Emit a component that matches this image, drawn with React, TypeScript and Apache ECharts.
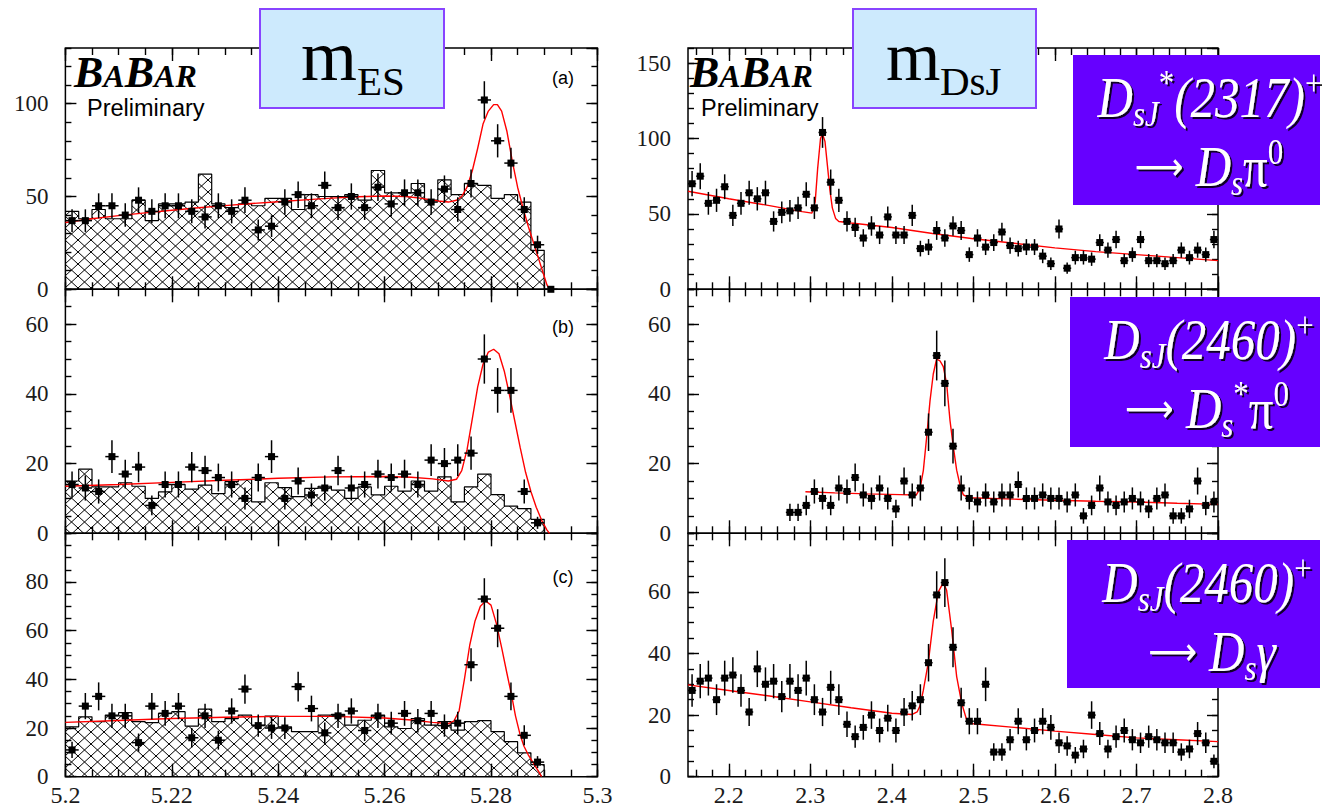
import React, { useEffect, useRef } from "react";
import * as echarts from "echarts";

const SERIF = "'Liberation Serif', 'DejaVu Serif', serif";
const SANS = "'Liberation Sans', Arial, sans-serif";

// ---------- m_ES (left column): 2.5 MeV bins starting at 5.2 GeV ----------
const mesMin = 5.2;
const mesMax = 5.3;
const mesBinStart = 5.2;
const mesBinWidth = 0.0025;
const mesMajorTick = 0.02;
const mesMinorTick = 0.005;

const mesCountsA = [37, 37, 45, 45, 40, 48, 42, 45, 45, 42, 39, 45, 42, 48, 32, 34, 47, 51, 45, 56, 44, 50, 44, 55, 46, 52, 52, 47, 54, 43, 57, 102, 80, 68, 43, 24, 0];
const mesCountsB = [14, 13, 12, 22, 17, 19, 8, 14, 14, 19, 18, 16, 14, 10, 16, 22, 10, 15, 11, 13, 18, 13, 14, 17, 16, 17, 14, 21, 20, 21, 23, 50, 41, 41, 12, 3];
const mesCountsC = [11, 29, 33, 25, 25, 14, 29, 26, 29, 16, 25, 15, 27, 36, 21, 20, 20, 37, 28, 18, 25, 27, 19, 25, 22, 26, 23, 26, 21, 22, 46, 73, 61, 33, 17, 6];

const mesBkgA = [42, 38, 43, 38, 38, 48, 37, 46, 46, 47, 62, 46, 44, 46, 45, 49, 49, 43, 51, 50, 50, 51, 48, 64, 52, 52, 57, 48, 59, 51, 57, 56, 49, 51, 47, 21];
const mesBkgB = [15, 18.4, 13.3, 13.3, 14.5, 13.5, 10, 11.9, 14, 12.7, 13.8, 11.4, 14.8, 15.4, 9, 14.5, 13.1, 10.5, 12.9, 13.5, 12.4, 10, 13.3, 11, 13.5, 12.1, 15, 12.1, 16.2, 9, 13.3, 17, 11.1, 7.8, 7.1, 4];
const mesBkgC = [20.5, 24.6, 22.6, 25.3, 26.3, 22.6, 22.2, 26, 26.7, 20.8, 27.8, 22.6, 23.9, 25.3, 21.2, 24.9, 20.5, 18.5, 18.5, 25.3, 25.6, 21.2, 23.2, 25.3, 20.5, 19.8, 23.9, 21.2, 22.6, 19.1, 22.6, 23, 18.5, 14.4, 9.8, 5];

const mesFitA = [[5.2, 36], [5.205, 38], [5.21, 39.7], [5.215, 41.2], [5.22, 42.6], [5.225, 43.9], [5.23, 45.1], [5.235, 46.2], [5.24, 47.2], [5.245, 48.2], [5.25, 49.1], [5.255, 49.9], [5.26, 50.3], [5.264, 50], [5.267, 49], [5.27, 47.6], [5.272, 47], [5.2735, 48], [5.2745, 50], [5.2755, 55], [5.2765, 64], [5.2775, 76], [5.2785, 89], [5.2795, 96], [5.2805, 99.5], [5.2812, 99.5], [5.282, 96], [5.283, 85], [5.284, 69], [5.285, 55], [5.286, 44], [5.287, 34], [5.288, 25], [5.289, 16], [5.29, 7], [5.2905, 2.5], [5.291, 0]];
const mesFitB = [[5.2, 13.5], [5.21, 14], [5.22, 14.6], [5.23, 15.2], [5.24, 15.8], [5.25, 16.2], [5.26, 16.3], [5.265, 16.1], [5.269, 15.6], [5.272, 15], [5.2735, 15.5], [5.2745, 18], [5.2755, 24], [5.2765, 33], [5.2775, 42], [5.2785, 48.5], [5.2795, 52], [5.2805, 52.8], [5.2815, 51.5], [5.2825, 46.5], [5.2835, 39.5], [5.2845, 32], [5.2855, 24.5], [5.2865, 17.5], [5.2875, 12], [5.2885, 7.5], [5.2895, 3.8], [5.2905, 1], [5.291, 0]];
const mesFitC = [[5.2, 22.3], [5.21, 23.1], [5.22, 23.9], [5.23, 24.4], [5.24, 24.8], [5.25, 24.8], [5.26, 24.1], [5.265, 23.3], [5.269, 22.3], [5.272, 21.8], [5.273, 22.8], [5.274, 27], [5.275, 40], [5.276, 54], [5.277, 64], [5.278, 70], [5.279, 72.2], [5.28, 70.5], [5.281, 63], [5.282, 53], [5.283, 42.4], [5.284, 32], [5.2846, 25], [5.2855, 17], [5.2862, 12.5], [5.287, 9], [5.288, 5.5], [5.289, 2], [5.2895, 0]];

// ---------- m_DsJ (right column): 10 MeV bins starting at 2.15 GeV ----------
const mdsjMin = 2.15;
const mdsjMax = 2.8;
const mdsjBinStart = 2.15;
const mdsjBinWidth = 0.01;
const mdsjTickValues = [2.2, 2.3, 2.4, 2.5, 2.6, 2.7, 2.8];
const mdsjMinorTickValues: number[] = [];
for (let v = 216; v <= 280; v += 2) mdsjMinorTickValues.push(v / 100);

const mdsjCountsA = [70, 75, 57, 59, 68, 49, 57, 64, 60, 64, 45, 51, 52, 54, 63, 54, 104, 71, 59, 45, 41, 34, 42, 36, 48, 36, 36, 49, 27, 28, 39, 34, 42, 39, 23, 34, 28, 31, 38, 29, 27, 28, 28, 22, 17, 40, 14, 21, 21, 20, 31, 26, 33, 19, 23, 33, 19, 19, 17, 19, 26, 21, 26, 23, 33];
const mdsjFirstBinB = 12;
const mdsjCountsB = [6, 6, 8, 12, 10, 8, 13, 12, 16, 11, 10, 13, 10, 7, 15, 11, 13, 29, 51, 43, 25, 13, 10, 9, 11, 9, 11, 11, 14, 10, 10, 11, 10, 10, 9, 11, 5, 8, 13, 9, 8, 9, 10, 9, 7, 10, 11, 5, 5, 7, 15, 8, 9];
const mdsjCountsC = [28, 31, 32, 25, 32, 33, 28, 21, 35, 30, 31, 26, 31, 28, 32, 25, 21, 29, 25, 17, 13, 16, 20, 15, 19, 15, 21, 23, 25, 37, 59, 63, 42, 24, 18, 18, 30, 8, 8, 12, 18, 12, 15, 18, 16, 11, 10, 7, 9, 20, 14, 9, 13, 15, 12, 11, 13, 12, 11, 11, 8, 9, 14, 11, 5];

const mdsjFitA = [[2.15, 65], [2.2, 60], [2.25, 55.5], [2.29, 51.5], [2.302, 50.5], [2.306, 58], [2.309, 80], [2.3125, 100], [2.315, 103], [2.318, 98], [2.321, 82], [2.324, 66], [2.327, 54], [2.331, 47], [2.335, 45], [2.35, 44], [2.4, 41], [2.45, 37], [2.5, 33.5], [2.55, 30.5], [2.6, 27.5], [2.65, 25], [2.7, 23], [2.75, 21], [2.8, 19]];
const mdsjFitB = [[2.294, 11.9], [2.33, 11.6], [2.37, 11.3], [2.41, 11.1], [2.43, 11], [2.4346, 12.9], [2.4386, 18], [2.4427, 27.6], [2.4468, 38], [2.4508, 45.7], [2.4549, 50], [2.459, 49.5], [2.4631, 47.8], [2.4672, 42.9], [2.4713, 32.4], [2.4754, 24.8], [2.4795, 18.1], [2.4836, 13.8], [2.4877, 11], [2.495, 10.2], [2.55, 9.8], [2.6, 9.5], [2.65, 9.2], [2.7, 9], [2.75, 8.6], [2.8, 8.3]];
const mdsjFitC = [[2.15, 29.8], [2.2, 28], [2.25, 26.2], [2.3, 24.3], [2.35, 22.4], [2.4, 20.6], [2.425, 20.2], [2.431, 21], [2.4345, 23], [2.4386, 28], [2.4447, 37], [2.4508, 50.5], [2.457, 60], [2.4631, 63], [2.4672, 60.5], [2.4734, 47.5], [2.4795, 32.5], [2.4857, 23.8], [2.4918, 18.4], [2.497, 17.4], [2.5, 17.2], [2.55, 16], [2.6, 14.8], [2.65, 13.7], [2.7, 12.6], [2.75, 12], [2.8, 11.4]];

// ---------- layout ----------
const colLeft = [65.4, 688];
const colWidth = [532, 530];
const rowTop = [48, 289.3, 533.3];
const rowHeight = [241.3, 244, 243.4];

const panels: any[] = [
  { col: 0, row: 0, yMax: 130, yMajor: 50, yMinor: 10, counts: mesCountsA, bkg: mesBkgA, fit: mesFitA, firstBin: 0 },
  { col: 0, row: 1, yMax: 70, yMajor: 20, yMinor: 5, counts: mesCountsB, bkg: mesBkgB, fit: mesFitB, firstBin: 0 },
  { col: 0, row: 2, yMax: 100, yMajor: 20, yMinor: 5, counts: mesCountsC, bkg: mesBkgC, fit: mesFitC, firstBin: 0 },
  { col: 1, row: 0, yMax: 160, yMajor: 50, yMinor: 10, counts: mdsjCountsA, fit: mdsjFitA, firstBin: 0 },
  { col: 1, row: 1, yMax: 70, yMajor: 20, yMinor: 5, counts: mdsjCountsB, fit: mdsjFitB, firstBin: mdsjFirstBinB },
  { col: 1, row: 2, yMax: 79, yMajor: 20, yMinor: 5, counts: mdsjCountsC, fit: mdsjFitC, firstBin: 0 },
];

const tickLine = { color: "#000", width: 1.4 };
const xLabel = { fontFamily: SERIF, fontSize: 24, color: "#1a1a1a", margin: 6 };
const yLabel = { fontFamily: SERIF, fontSize: 23, color: "#1a1a1a", margin: 17, showMaxLabel: false };

function xAxes(gi: number, col: number, showLabels: boolean) {
  const range = col === 0 ? { min: mesMin, max: mesMax } : { min: mdsjMin, max: mdsjMax };
  const common = { gridIndex: gi, type: "value", ...range, axisLine: { show: false, onZero: false }, splitLine: { show: false } };
  const majorInt = col === 0 ? { interval: mesMajorTick } : {};
  const minorInt = col === 0 ? { interval: mesMinorTick } : {};
  const majorCustom = col === 0 ? {} : { customValues: mdsjTickValues };
  const minorCustom = col === 0 ? {} : { customValues: mdsjMinorTickValues };
  const out: any[] = [];
  for (const position of ["bottom", "top"]) {
    out.push({
      ...common, ...majorInt, position,
      axisTick: { inside: true, length: 13, lineStyle: tickLine, ...majorCustom },
      axisLabel: position === "bottom" && showLabels ? { ...xLabel, ...majorCustom } : { show: false },
    });
    out.push({
      ...common, ...minorInt, position,
      axisTick: { inside: true, length: 7, lineStyle: tickLine, ...minorCustom },
      axisLabel: { show: false },
    });
  }
  return out;
}

function yAxes(gi: number, p: any) {
  const common = { gridIndex: gi, type: "value", min: 0, max: p.yMax, axisLine: { show: false, onZero: false }, splitLine: { show: false } };
  return [
    { ...common, position: "left", interval: p.yMajor, axisTick: { inside: true, length: 11, lineStyle: tickLine }, axisLabel: yLabel },
    { ...common, position: "left", interval: p.yMinor, axisTick: { inside: true, length: 6, lineStyle: tickLine }, axisLabel: { show: false } },
    { ...common, position: "right", interval: p.yMajor, axisTick: { inside: true, length: 11, lineStyle: tickLine }, axisLabel: { show: false } },
    { ...common, position: "right", interval: p.yMinor, axisTick: { inside: true, length: 6, lineStyle: tickLine }, axisLabel: { show: false } },
  ];
}

function makeHatch() {
  const w = 13;
  const h = 12;
  const c = document.createElement("canvas");
  c.width = w;
  c.height = h;
  const ctx = c.getContext("2d") as CanvasRenderingContext2D;
  ctx.strokeStyle = "#000";
  ctx.lineWidth = 1;
  ctx.beginPath();
  ctx.moveTo(0, 0);
  ctx.lineTo(w, h);
  ctx.moveTo(w, 0);
  ctx.lineTo(0, h);
  ctx.stroke();
  return c;
}

function pointsSeries(gi: number, data: number[][], halfWidth: number) {
  return {
    type: "custom",
    xAxisIndex: gi * 4,
    yAxisIndex: gi * 4,
    z: 6,
    clip: false,
    data,
    renderItem: (_params: any, api: any) => {
      const x = api.value(0);
      const y = api.value(1);
      const e = Math.sqrt(y);
      const c = api.coord([x, y]);
      const lo = api.coord([x, y - e]);
      const hi = api.coord([x, y + e]);
      const l = api.coord([x - halfWidth, y]);
      const r = api.coord([x + halfWidth, y]);
      const s = 7;
      return {
        type: "group",
        children: [
          { type: "line", shape: { x1: c[0], y1: hi[1], x2: c[0], y2: lo[1] }, style: { stroke: "#000", lineWidth: 1.5 } },
          { type: "line", shape: { x1: l[0], y1: c[1], x2: r[0], y2: c[1] }, style: { stroke: "#000", lineWidth: 1.5 } },
          { type: "rect", shape: { x: c[0] - s / 2, y: c[1] - s / 2, width: s, height: s }, style: { fill: "#000" } },
        ],
      };
    },
  };
}

function buildGraphic() {
  const g: any[] = [];
  const logo = (x: number, y: number) => ({
    type: "text", x, y, z: 50,
    style: {
      text: "{b|B}{s|A}{b|B}{s|AR}",
      align: "left", textAlign: "left", verticalAlign: "top", textVerticalAlign: "top",
      rich: {
        b: { fontFamily: SERIF, fontStyle: "italic", fontWeight: "bold", fontSize: 44, lineHeight: 36, verticalAlign: "bottom", fill: "#000", color: "#000" },
        s: { fontFamily: SERIF, fontStyle: "italic", fontWeight: "bold", fontSize: 32, lineHeight: 26, verticalAlign: "bottom", fill: "#000", color: "#000", padding: [0, 0, 2, 0] },
      },
    },
  });
  const prelim = (x: number, y: number) => ({
    type: "text", x, y, z: 50,
    style: { text: "Preliminary", fontFamily: SANS, fontSize: 23.5, fill: "#000", align: "left", textAlign: "left", verticalAlign: "middle", textVerticalAlign: "middle" },
  });
  const tag = (t: string, x: number, y: number) => ({
    type: "text", x, y, z: 50,
    style: { text: t, fontFamily: SANS, fontSize: 18, fill: "#000", align: "center", textAlign: "center", verticalAlign: "middle", textVerticalAlign: "middle" },
  });
  g.push(logo(74, 58), logo(690, 58), prelim(87, 108), prelim(701, 108));
  g.push(tag("(a)", 563, 78), tag("(b)", 563, 327), tag("(c)", 563, 577));

  // light-blue variable boxes
  const blueBox = (x: number, w: number) => ({
    type: "rect", z: 100, shape: { x, y: 9, width: w, height: 99 },
    style: { fill: "#cdeafd", stroke: "#8844ff", lineWidth: 2 },
  });
  const serifText = (t: string, x: number, y: number, size: number) => ({
    type: "text", x, y, z: 101,
    style: { text: t, fontFamily: SERIF, fontSize: size, fill: "#000", align: "left", textAlign: "left", verticalAlign: "middle", textVerticalAlign: "middle" },
  });
  g.push(blueBox(260, 184), serifText("m", 301, 56, 72), serifText("ES", 357, 81, 41));
  g.push(blueBox(853, 183), serifText("m", 886, 56, 70), serifText("DsJ", 940, 81, 41));

  // purple decay boxes
  const shadow = { textShadowColor: "rgba(0,0,0,0.85)", textShadowBlur: 1, textShadowOffsetX: 2, textShadowOffsetY: 2 };
  const base = { fill: "#fff", color: "#fff", fontFamily: SERIF, ...shadow };
  const rich = {
    m: { ...base, fontStyle: "italic", fontSize: 49, lineHeight: 58, verticalAlign: "middle" },
    u: { ...base, fontStyle: "normal", fontSize: 49, lineHeight: 58, verticalAlign: "middle" },
    arr: { ...base, fontFamily: "'DejaVu Sans', sans-serif", fontStyle: "normal", fontSize: 34, lineHeight: 58, verticalAlign: "middle" },
    sub: { ...base, fontStyle: "italic", fontSize: 31, lineHeight: 31, verticalAlign: "bottom" },
    sup: { ...base, fontStyle: "normal", fontSize: 31, lineHeight: 31, verticalAlign: "top" },
  };
  const purpleBox = (x: number, y: number, h: number) => ({
    type: "rect", z: 100, shape: { x, y, width: 1322 - x - 2, height: h }, style: { fill: "#6600ff" },
  });
  const line = (t: string, x: number, y: number) => ({
    type: "text", x, y, z: 101, scaleY: 1.15,
    style: { text: t, ...base, align: "center", textAlign: "center", verticalAlign: "middle", textVerticalAlign: "middle", rich },
  });
  g.push(purpleBox(1073, 55, 150), line("{m|D}{sub|sJ}{sup|*}{m|(2317)}{sup|+}", 1210, 98), line("{arr|⟶}{u| }{m|D}{sub|s}{u|π}{sup|0}", 1209, 167));
  g.push(purpleBox(1070, 297, 150), line("{m|D}{sub|sJ}{m|(2460)}{sup|+}", 1209, 340), line("{arr|⟶}{u| }{m|D}{sub|s}{sup|*}{u|π}{sup|0}", 1207, 409));
  g.push(purpleBox(1067, 540, 148), line("{m|D}{sub|sJ}{m|(2460)}{sup|+}", 1207, 583), line("{arr|⟶}{u| }{m|D}{sub|s}{m|γ}", 1212, 652));
  return g;
}

function buildOption() {
  const hatch = { image: makeHatch(), repeat: "repeat", imageWidth: 13, imageHeight: 12 };
  const grid: any[] = [];
  const xAxis: any[] = [];
  const yAxis: any[] = [];
  const series: any[] = [];
  panels.forEach((p, gi) => {
    grid.push({
      left: colLeft[p.col], top: rowTop[p.row], width: colWidth[p.col], height: rowHeight[p.row],
      show: true, borderColor: "#000", borderWidth: 1.5, backgroundColor: "rgba(0,0,0,0)",
    });
    xAxis.push(...xAxes(gi, p.col, p.row === 2));
    yAxis.push(...yAxes(gi, p));
    const binStart = p.col === 0 ? mesBinStart : mdsjBinStart;
    const binWidth = p.col === 0 ? mesBinWidth : mdsjBinWidth;
    if (p.bkg) {
      const step: number[][] = p.bkg.map((v: number, k: number) => [binStart + k * binWidth, v]);
      const end = binStart + p.bkg.length * binWidth;
      step.push([end, p.bkg[p.bkg.length - 1]]);
      step.push([end, 0]);
      series.push({
        type: "line", xAxisIndex: gi * 4, yAxisIndex: gi * 4, step: "end", symbol: "none", z: 3,
        data: step, lineStyle: { color: "#000", width: 1.2 }, areaStyle: { color: hatch, opacity: 1 },
      });
    }
    series.push({
      type: "line", xAxisIndex: gi * 4, yAxisIndex: gi * 4, symbol: "none", z: 4, smooth: false,
      data: p.fit, lineStyle: { color: "#ff0000", width: 1.4 },
    });
    const pts = p.counts.map((v: number, k: number) => [binStart + (p.firstBin + k + 0.5) * binWidth, v]);
    series.push(pointsSeries(gi, pts, binWidth / 2));
  });
  return { animation: false, backgroundColor: "#fff", grid, xAxis, yAxis, series, graphic: buildGraphic() };
}

export default function App() {
  const ref = useRef<HTMLDivElement>(null);
  useEffect(() => {
    if (!ref.current) return;
    const chart = echarts.init(ref.current, null, { renderer: "svg", width: 1322, height: 810 });
    chart.setOption(buildOption() as any);
    return () => chart.dispose();
  }, []);
  return <div ref={ref} style={{ position: "absolute", left: 0, top: 0, width: 1322, height: 810, background: "#fff" }} />;
}
